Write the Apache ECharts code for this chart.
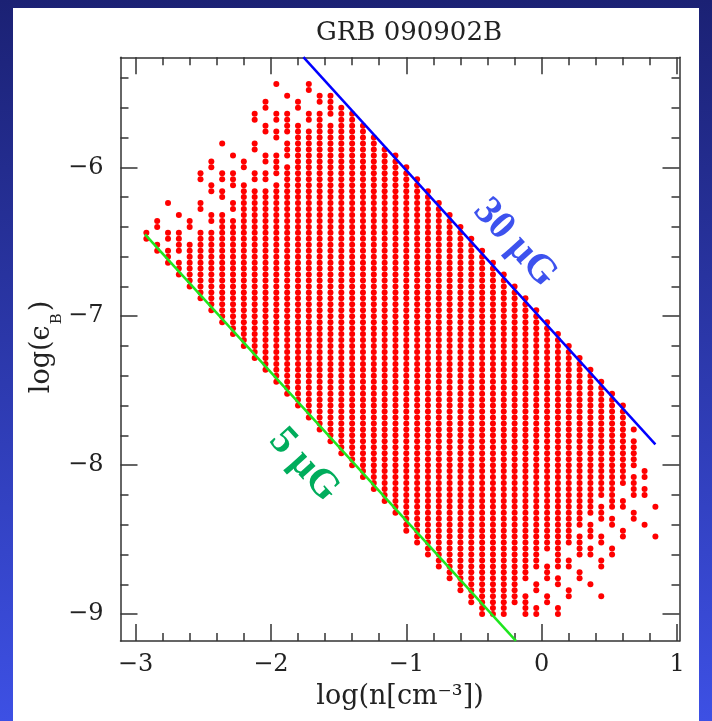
<!DOCTYPE html>
<html>
<head>
<meta charset="utf-8">
<title>GRB 090902B</title>
<script src="https://cdn.jsdelivr.net/npm/echarts@6/dist/echarts.min.js"></script>
<style>
  html, body { margin: 0; padding: 0; }
  #chart { width: 712px; height: 721px; }
</style>
</head>
<body>
<div id="chart"></div>
<script>
// column positions in log(n)
const colN = [-2.92, -2.84, -2.76, -2.68, -2.60, -2.52, -2.44, -2.36, -2.28, -2.20,
  -2.12, -2.04, -1.96, -1.88, -1.80, -1.72, -1.64, -1.56, -1.48, -1.40,
  -1.32, -1.24, -1.16, -1.08, -1.00, -0.92, -0.84, -0.76, -0.68, -0.60,
  -0.52, -0.44, -0.36, -0.28, -0.20, -0.12, -0.04, 0.04, 0.12, 0.20,
  0.28, 0.36, 0.44, 0.52, 0.60, 0.68, 0.76, 0.84];

// runs of dots in each column: [top, bottom] of log(eps_B), dots every ROW_STEP
const ROW_STEP = 0.04;
const colRuns = [
  [[-6.44, -6.48]],
  [[-6.36, -6.40], [-6.52, -6.56]],
  [[-6.24, -6.24], [-6.44, -6.48], [-6.56, -6.64]],
  [[-6.32, -6.32], [-6.44, -6.56], [-6.64, -6.72]],
  [[-6.36, -6.40], [-6.52, -6.80]],
  [[-6.04, -6.08], [-6.24, -6.28], [-6.44, -6.88]],
  [[-5.96, -6.00], [-6.12, -6.16], [-6.32, -6.36], [-6.44, -6.96]],
  [[-5.84, -5.84], [-6.04, -6.08], [-6.16, -6.20], [-6.32, -7.04]],
  [[-5.92, -5.92], [-6.04, -6.12], [-6.24, -6.28], [-6.36, -7.12]],
  [[-5.96, -6.00], [-6.12, -7.20]],
  [[-5.64, -5.68], [-5.84, -5.88], [-6.04, -6.08], [-6.16, -7.28]],
  [[-5.56, -5.60], [-5.72, -5.76], [-5.92, -5.96], [-6.04, -6.08], [-6.16, -7.36]],
  [[-5.44, -5.44], [-5.64, -5.68], [-5.76, -5.80], [-5.92, -6.04], [-6.12, -7.44]],
  [[-5.52, -5.52], [-5.64, -5.76], [-5.84, -5.92], [-6.00, -7.52]],
  [[-5.56, -5.60], [-5.72, -7.60]],
  [[-5.44, -5.48], [-5.64, -5.68], [-5.76, -7.68]],
  [[-5.52, -5.56], [-5.64, -7.76]],
  [[-5.52, -5.64], [-5.72, -7.84]],
  [[-5.60, -7.92]],
  [[-5.64, -8.00]],
  [[-5.72, -8.08]],
  [[-5.80, -8.16]],
  [[-5.88, -8.24]],
  [[-5.92, -8.32]],
  [[-6.00, -8.44]],
  [[-6.08, -8.52]],
  [[-6.16, -8.60]],
  [[-6.24, -8.68]],
  [[-6.32, -8.76]],
  [[-6.40, -8.84]],
  [[-6.48, -8.92]],
  [[-6.56, -9.00]],
  [[-6.64, -9.00]],
  [[-6.72, -9.00]],
  [[-6.80, -8.92]],
  [[-6.88, -8.76], [-8.88, -9.00]],
  [[-6.96, -8.68], [-8.80, -8.84], [-8.96, -9.00]],
  [[-7.04, -8.56], [-8.68, -8.76], [-8.88, -8.92]],
  [[-7.12, -8.68], [-8.76, -8.80], [-8.96, -9.00]],
  [[-7.20, -8.52], [-8.64, -8.68], [-8.84, -8.88]],
  [[-7.28, -8.40], [-8.48, -8.60], [-8.72, -8.76]],
  [[-7.36, -8.32], [-8.40, -8.48], [-8.56, -8.60], [-8.80, -8.80]],
  [[-7.44, -8.20], [-8.28, -8.36], [-8.48, -8.52], [-8.64, -8.68], [-8.88, -8.88]],
  [[-7.52, -8.28], [-8.36, -8.40], [-8.56, -8.60]],
  [[-7.60, -8.12], [-8.24, -8.28], [-8.44, -8.48]],
  [[-7.76, -7.76], [-7.84, -8.00], [-8.08, -8.20], [-8.32, -8.36]],
  [[-8.04, -8.08], [-8.16, -8.20], [-8.40, -8.40]],
  [[-8.28, -8.28], [-8.48, -8.48]]
];

// field lines
const line30 = [[-1.76, -5.26], [0.84, -7.86]];
const line5 = [[-2.93, -6.45], [-0.19, -9.18]];

const xMajor = [-3, -2, -1, 0, 1];
const xMinor = [-2.8, -2.6, -2.4, -2.2, -1.8, -1.6, -1.4, -1.2, -0.8, -0.6, -0.4, -0.2,
  0.2, 0.4, 0.6, 0.8];
const yMajor = [-9, -8, -7, -6];
const yMinor = [-8.8, -8.6, -8.4, -8.2, -7.8, -7.6, -7.4, -7.2, -6.8, -6.6, -6.4, -6.2,
  -5.8, -5.6, -5.4];

const points = [];
colN.forEach((n, i) => {
  colRuns[i].forEach(([top, bottom]) => {
    for (let y = top; y >= bottom - 1e-6; y -= ROW_STEP) {
      points.push([n, +y.toFixed(2)]);
    }
  });
});

const serif = 'DejaVu Serif';
const frame = { color: '#333', width: 1.5 };
const minus = v => String(v).replace('-', '\u2212');

function axis(kind, position, ticks, len, opts) {
  const range = kind === 'x' ? { min: -3.111, max: 1.018 } : { min: -9.181, max: -5.261 };
  return Object.assign({
    type: 'value',
    position: position,
    min: range.min,
    max: range.max,
    axisLine: { show: false, onZero: false, lineStyle: frame },
    axisTick: { show: true, inside: true, length: len, customValues: ticks, lineStyle: frame },
    axisLabel: { show: false },
    splitLine: { show: false }
  }, opts || {});
}

const edge = { show: true, onZero: false, lineStyle: frame };

const chart = echarts.init(document.getElementById('chart'));
chart.setOption({
  animation: false,
  backgroundColor: new echarts.graphic.LinearGradient(0, 0, 0, 1, [
    { offset: 0, color: '#1b2174' },
    { offset: 1, color: '#3d50e4' }
  ]),
  graphic: [
    { type: 'rect', z: -10, silent: true, shape: { x: 13, y: 8, width: 686, height: 713 }, style: { fill: '#fff' } },
    {
      type: 'text', x: 515, y: 243, rotation: -0.832, silent: true,
      style: { text: '30 \u03bcG', fill: '#3d52ee', font: 'bold 40px "Liberation Serif"', textAlign: 'center', textVerticalAlign: 'middle' }
    },
    {
      type: 'text', x: 304, y: 465, rotation: -0.832, silent: true,
      style: { text: '5 \u03bcG', fill: '#00ad5c', font: 'bold 40px "Liberation Serif"', textAlign: 'center', textVerticalAlign: 'middle' }
    },
    {
      // y-axis title
      type: 'text', x: 42, y: 347, rotation: Math.PI / 2, silent: true,
      style: {
        text: '{a|log(\u03f5}{b|B}{a|)}',
        align: 'center',
        verticalAlign: 'middle',
        rich: {
          a: { fontFamily: serif, fontSize: 27, fill: '#222', lineHeight: 34 },
          b: { fontFamily: serif, fontSize: 15, fill: '#222', verticalAlign: 'bottom', lineHeight: 34, padding: [0, 2, -6, 1] }
        }
      }
    }
  ],
  title: {
    text: 'GRB 090902B',
    left: 404,
    top: 15,
    textAlign: 'center',
    textStyle: { fontFamily: serif, fontSize: 26, fontWeight: 'normal', color: '#222' }
  },
  grid: { left: 120.5, right: 32.5, top: 57.3, bottom: 80, containLabel: false },
  xAxis: [
    axis('x', 'bottom', xMajor, 17, {
      axisLine: edge,
      axisLabel: { show: true, customValues: xMajor, formatter: minus, margin: 12,
        fontFamily: serif, fontSize: 24, color: '#222' },
      name: 'log(n[cm\u207b\u00b3])',
      nameLocation: 'middle',
      nameGap: 42,
      nameTextStyle: { fontFamily: serif, fontSize: 27, color: '#222' }
    }),
    axis('x', 'bottom', xMinor, 8),
    axis('x', 'top', xMajor, 17, { axisLine: edge }),
    axis('x', 'top', xMinor, 8)
  ],
  yAxis: [
    axis('y', 'left', yMajor, 17, {
      axisLine: edge,
      axisLabel: { show: true, customValues: yMajor, formatter: minus, margin: 17,
        fontFamily: serif, fontSize: 24, color: '#222' }
    }),
    axis('y', 'left', yMinor, 8),
    axis('y', 'right', yMajor, 17, { axisLine: edge }),
    axis('y', 'right', yMinor, 8)
  ],
  series: [
    {
      type: 'scatter',
      name: 'models',
      data: points,
      symbol: 'circle',
      symbolSize: 6,
      itemStyle: { color: '#ff0000', opacity: 1 },
      z: 2
    },
    {
      type: 'line',
      name: '30 \u03bcG',
      data: line30,
      showSymbol: false,
      lineStyle: { color: '#0000ff', width: 2.5 },
      z: 3
    },
    {
      type: 'line',
      name: '5 \u03bcG',
      data: line5,
      showSymbol: false,
      lineStyle: { color: '#1ee61e', width: 2.5 },
      z: 3
    }
  ]
});
</script>
</body>
</html>
